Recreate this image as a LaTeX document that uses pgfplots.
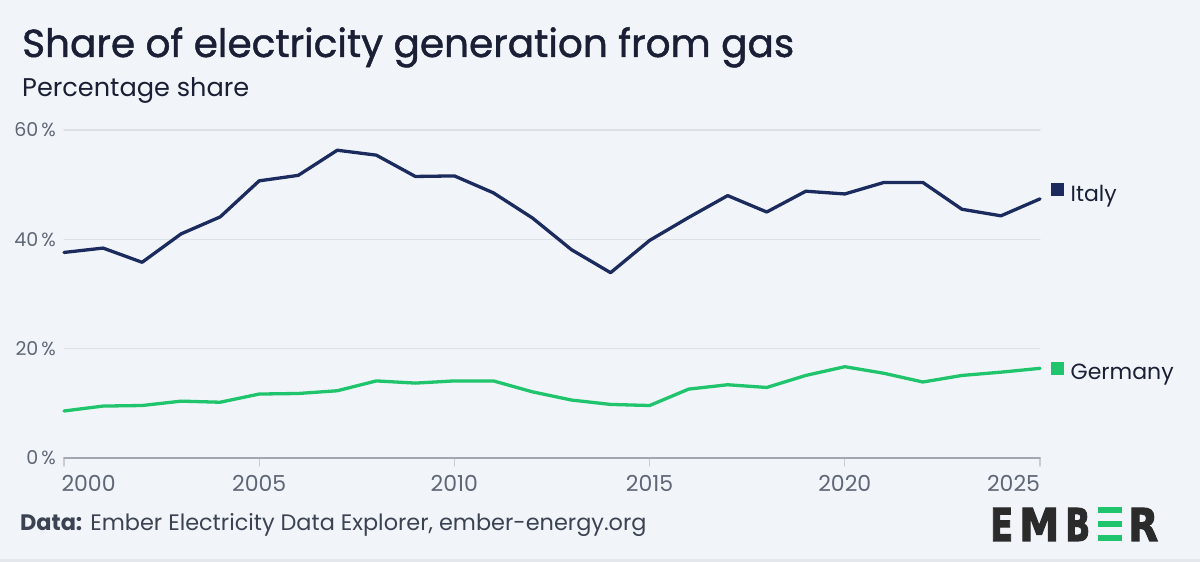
\documentclass[border=0pt]{standalone}
\usepackage{fontspec}
\setmainfont{Poppins}
\newfontfamily\titlefont[FakeBold=1.2]{Poppins}
\newfontfamily\logofont[FakeBold=2.5]{DejaVu Sans}
\usepackage{graphicx}
\usepackage{pgfplots}
\pgfplotsset{compat=1.18}
\definecolor{bg}{HTML}{F1F5F9}
\definecolor{strip}{HTML}{E4E8ED}
\definecolor{italy}{HTML}{1C2B5E}
\definecolor{germany}{HTML}{1FC46C}
\definecolor{titlec}{HTML}{1A1F36}
\definecolor{tickc}{HTML}{5F6675}
\definecolor{gridc}{HTML}{DCE1E8}
\definecolor{axisc}{HTML}{A3A8B0}
\definecolor{tickmc}{HTML}{C9CDD3}
\definecolor{footc}{HTML}{3B4252}
\definecolor{logoc}{HTML}{2B2B2B}
\definecolor{logog}{HTML}{1FC46C}
\begin{document}
\begin{tikzpicture}[x=1pt,y=1pt]
\fill[bg] (0,0) rectangle (1200,562);
\path[use as bounding box] (0,0) rectangle (1200,562);
\fill[strip] (0,0) rectangle (1200,3);
\node[anchor=base west, inner sep=0, text=titlec, font=\titlefont\fontsize{39}{44}\selectfont] at (22,505) {Share of electricity generation from gas};
\node[anchor=base west, inner sep=0, text=titlec, font=\fontsize{25.6}{30}\selectfont] at (22,465) {Percentage share};
\node[anchor=base west, inner sep=0, text=footc, font=\fontsize{22.4}{26}\selectfont] at (20,31) {\textbf{Data:} Ember Electricity Data Explorer, ember-energy.org};
% logo
\node[anchor=base west, inner sep=0, text=logoc] at (990,21) {\resizebox{23pt}{33pt}{\logofont\bfseries E}};
\node[anchor=base west, inner sep=0, text=logoc] at (1019,21) {\resizebox{40pt}{33pt}{\logofont\bfseries M}};
\node[anchor=base west, inner sep=0, text=logoc] at (1065,21) {\resizebox{25pt}{33pt}{\logofont\bfseries B}};
\fill[logog] (1098,49) rectangle (1122,54.5);
\fill[logog] (1098,35) rectangle (1122,40.5);
\fill[logog] (1098,21) rectangle (1122,26.5);
\node[anchor=base west, inner sep=0, text=logoc] at (1128,21) {\resizebox{30pt}{33pt}{\logofont\bfseries R}};
\begin{axis}[
  at={(64pt,104pt)}, anchor=south west,
  width=976pt, height=328pt, scale only axis,
  xmin=2000, xmax=2025, ymin=0, ymax=60,
  clip=false,
  axis x line*=bottom, axis y line*=left,
  y axis line style={draw=none},
  x axis line style={draw=axisc, line width=1.5pt},
  xtick={2000,2005,...,2025},
  ytick={0,20,40,60},
  ytick style={draw=none},
  xtick style={draw=tickmc, line width=1.2pt},
  tick align=outside,
  major tick length=8pt,
  ymajorgrids,
  grid style={draw=gridc, line width=1.2pt},
  /pgf/number format/assume math mode=true,
  tick label style={text=tickc},
  yticklabel style={font=\fontsize{19}{22}\selectfont, anchor=east, inner sep=0pt, xshift=0pt},
  xticklabel style={font=\fontsize{22}{26}\selectfont, anchor=north, inner sep=0pt, yshift=-9pt},
  yticklabel={\pgfmathparse{int(round(\tick))}\pgfmathresult\hspace{3pt}\%},
  xticklabel={\pgfmathparse{int(round(\tick))}\let\yr\pgfmathresult\ifnum\yr=2000 \hspace{-5pt}\rlap{\yr}\else\ifnum\yr=2025 \llap{\yr}\hspace{-3pt}\else\yr\fi\fi},
  line join=round, line cap=round,
]
\addplot[color=italy, line width=3.3pt] coordinates {
(2000,37.6) (2001,38.4) (2002,35.8) (2003,41.0) (2004,44.1) (2005,50.7)
(2006,51.7) (2007,56.3) (2008,55.4) (2009,51.5) (2010,51.6) (2011,48.5)
(2012,43.9) (2013,38.1) (2014,33.9) (2015,39.8) (2016,44.0) (2017,48.0)
(2018,45.0) (2019,48.8) (2020,48.3) (2021,50.4) (2022,50.4) (2023,45.5)
(2024,44.3) (2025,47.4)};
\addplot[color=germany, line width=3.3pt] coordinates {
(2000,8.6) (2001,9.5) (2002,9.6) (2003,10.4) (2004,10.2) (2005,11.7)
(2006,11.8) (2007,12.3) (2008,14.1) (2009,13.7) (2010,14.1) (2011,14.1)
(2012,12.1) (2013,10.6) (2014,9.8) (2015,9.6) (2016,12.6) (2017,13.4)
(2018,12.9) (2019,15.1) (2020,16.7) (2021,15.5) (2022,13.9) (2023,15.1)
(2024,15.7) (2025,16.4)};
\node[anchor=base west, inner sep=0, xshift=11pt, text=titlec, font=\fontsize{22}{26}\selectfont] at (axis cs:2025,46.9) {\textcolor{italy}{\rule[5.7pt]{12.5pt}{12.5pt}}\hspace{7pt}Italy};
\node[anchor=base west, inner sep=0, xshift=11pt, text=titlec, font=\fontsize{22}{26}\selectfont] at (axis cs:2025,14.3) {\textcolor{germany}{\rule[5pt]{12.5pt}{12.5pt}}\hspace{7pt}Germany};
\end{axis}
\end{tikzpicture}
\end{document}
